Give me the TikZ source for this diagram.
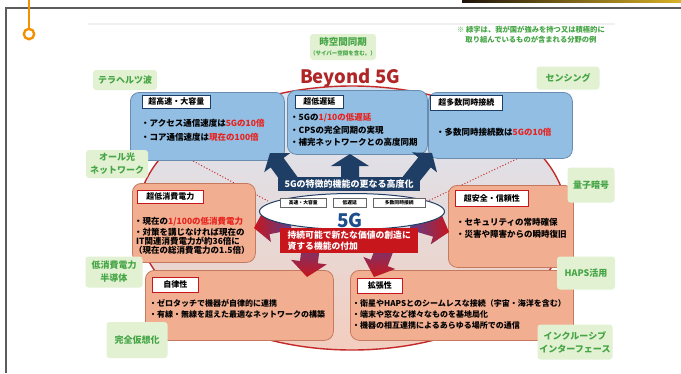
\documentclass[tikz,border=0pt]{standalone}
\usepackage{fontspec}
\setmainfont{Noto Sans CJK JP}
\usetikzlibrary{calc,shapes.geometric}
\definecolor{bfill}{HTML}{92BEE4}
\definecolor{bdraw}{HTML}{6A8CAE}
\definecolor{sfill}{HTML}{F2AE90}
\definecolor{sdraw}{HTML}{C57A60}
\definecolor{navy}{HTML}{1E3E66}
\definecolor{redtxt}{HTML}{E8231E}
\definecolor{rbox}{HTML}{C8161D}
\definecolor{gtxt}{HTML}{45A545}
\definecolor{gglow}{HTML}{E3F1D3}
\definecolor{ring}{HTML}{C42A2A}
\definecolor{five}{HTML}{1F4E8C}
\definecolor{orng}{HTML}{F39200}
\definecolor{framec}{HTML}{5C5C5C}
\definecolor{purp}{HTML}{5A3F8C}
\definecolor{bgtop}{HTML}{D9E7F5}
\definecolor{bgmid}{HTML}{F1E6EA}
\definecolor{bgbot}{HTML}{F3CDBE}
\tikzset{
 box/.style={rounded corners=9pt, line width=0.8pt, inner sep=0pt, anchor=north west},
 bluebox/.style={box, fill=bfill, draw=bdraw},
 salbox/.style={box, fill=sfill, draw=sdraw},
 lab/.style={fill=white, line width=0.9pt, inner sep=0pt, anchor=north west, font=\fontsize{8}{9}\selectfont\bfseries},
 blab/.style={lab, draw=navy},
 slab/.style={lab, draw=rbox},
 txt/.style={anchor=west, inner sep=0pt, font=\fontsize{8.5}{9}\selectfont\bfseries},
 txts/.style={anchor=west, inner sep=0pt, font=\fontsize{8}{9}\selectfont\bfseries},
 glow/.style={fill=gglow, rounded corners=3pt, text=gtxt, align=center, inner sep=0pt, font=\fontsize{9}{13}\selectfont\bfseries},
 minibox/.style={fill=white, draw=black!60, line width=0.5pt, inner sep=0pt, anchor=north west, font=\fontsize{4.8}{5}\selectfont\bfseries},
}
\newcommand\blockarr[6]{%
 \path let \p1=(#1), \p2=(#2), \n1={atan2(\y2-\y1,\x2-\x1)}, \n2={veclen(\x2-\x1,\y2-\y1)} in \pgfextra{\xdef\barang{\n1}\xdef\barlen{\n2}};
 \begin{scope}[shift={(#1)}, rotate=\barang]
  \path[#6] (0,-#3) -- ({\barlen-#5},-#3) -- ({\barlen-#5},-#4) -- (\barlen,0) -- ({\barlen-#5},#4) -- ({\barlen-#5},#3) -- (0,#3) -- cycle;
 \end{scope}}
\begin{document}
\begin{tikzpicture}[x=1pt,y=-1pt]
\useasboundingbox (0,0) rectangle (681,373);
\fill[white] (0,0) rectangle (681,373);
% frame and marker
\draw[framec, line width=1.2pt] (681,8) -- (6,8) -- (6,373);
\fill[left color=black!85!brown, right color=brown!60!yellow] (462,0) rectangle (681,2.2);
\draw[orng, line width=1.5pt] (29,0) -- (29,28.6);
\draw[orng, line width=2.4pt] (29,34) circle[radius=5.2pt];
\draw[black!6, line width=1.5pt] (88,24) -- (615,24);
% big region
\shade[top color=bgtop, middle color=bgmid, bottom color=bgbot] (352,218) ellipse [x radius=215pt, y radius=132pt];
\draw[ring, line width=1.4pt] (352,218) ellipse [x radius=215pt, y radius=132pt];
\draw[ring, dotted, line width=1pt] (180,154) -- (268,201);
\draw[ring, dotted, line width=1pt] (525,155) -- (428,201);
% blue boxes
\node[bluebox, minimum width=154pt, minimum height=68pt] (b1) at (130,92) {};
\node[blab, minimum width=68pt, minimum height=13pt] (l1) at (142,95) {超高速・大容量};
\node[txt] (t1a) at (141,123) {・アクセス通信速度は\textcolor{redtxt}{5Gの10倍}};
\node[txt] (t1b) at (141,137) {・コア通信速度は\textcolor{redtxt}{現在の100倍}};
\node[bluebox, minimum width=140pt, minimum height=64pt] (b2) at (287,90) {};
\node[blab, minimum width=48pt, minimum height=13pt] (l2) at (295,95) {超低遅延};
\node[txt] (t2a) at (290,118) {・5Gの\textcolor{redtxt}{1/10の低遅延}};
\node[txt] (t2b) at (290,130) {・CPSの完全同期の実現};
\node[txt] (t2c) at (290,142) {・補完ネットワークとの高度同期};
\node[bluebox, minimum width=144pt, minimum height=66pt] (b3) at (428,92) {};
\node[blab, minimum width=72pt, minimum height=15pt] (l3) at (430,95) {超多数同時接続};
\node[txt] (t3a) at (436,132) {・多数同時接続数は\textcolor{redtxt}{5Gの10倍}};
% salmon boxes
\node[salbox, minimum width=123pt, minimum height=79pt] (b4) at (132,183) {};
\node[slab, minimum width=66pt, minimum height=13pt] (l4) at (137,190) {超低消費電力};
\node[txt] (t4a) at (134,222) {・現在の\textcolor{redtxt}{1/100の低消費電力}};
\node[txt] (t4b) at (134,232) {・対策を講じなければ現在の};
\node[txt] (t4c) at (136,241) {IT関連消費電力が約36倍に};
\node[txt] (t4d) at (134,250) {（現在の総消費電力の1.5倍）};
\node[salbox, minimum width=125pt, minimum height=82pt] (b5) at (448,185) {};
\node[slab, minimum width=73pt, minimum height=16pt] (l5) at (455,190) {超安全・信頼性};
\node[txt] (t5a) at (456,222) {・セキュリティの常時確保};
\node[txt] (t5b) at (456,234) {・災害や障害からの瞬時復旧};
\node[salbox, minimum width=188pt, minimum height=70pt] (b6) at (145,270) {};
\node[slab, minimum width=46pt, minimum height=15pt] (l6) at (152,277) {自律性};
\node[txts] (t6a) at (149,303) {・ゼロタッチで機器が自律的に連携};
\node[txts] (t6b) at (149,314) {・有線・無線を超えた最適なネットワークの構築};
\node[salbox, minimum width=223pt, minimum height=70pt] (b7) at (350,270) {};
\node[slab, minimum width=45pt, minimum height=15pt] (l7) at (357,278) {拡張性};
\node[txts] (t7a) at (352,303) {・衛星やHAPSとのシームレスな接続（宇宙・海洋を含む）};
\node[txts] (t7b) at (352,314) {・端末や窓など様々なものを基地局化};
\node[txts] (t7c) at (352,325) {・機器の相互連携によるあらゆる場所での通信};
% arrows
\coordinate (a1s) at (292,183); \coordinate (a1e) at (270,153);
\coordinate (a2s) at (350,180); \coordinate (a2e) at (350,154);
\coordinate (a3s) at (408,183); \coordinate (a3e) at (432,153);
\coordinate (r1s) at (290,221); \coordinate (r1e) at (254,228);
\coordinate (r2s) at (312,238); \coordinate (r2e) at (307,277);
\coordinate (r3s) at (388,240); \coordinate (r3e) at (374,277);
\coordinate (r4s) at (412,221); \coordinate (r4e) at (449,232);
\blockarr{a1s}{a1e}{8}{16}{12}{fill=navy}
\blockarr{a2s}{a2e}{9}{19}{12}{fill=navy}
\blockarr{a3s}{a3e}{8}{16}{12}{fill=navy}
\blockarr{r1s}{r1e}{9}{17}{14}{left color=rbox, right color=purp}
\blockarr{r2s}{r2e}{9}{18}{15}{top color=purp, bottom color=rbox}
\blockarr{r3s}{r3e}{9}{17}{15}{top color=purp, bottom color=rbox}
\blockarr{r4s}{r4e}{9}{17}{14}{left color=purp, right color=rbox}
% center
\node[ellipse, draw=navy, fill=white, line width=1pt, minimum width=185pt, minimum height=36pt, inner sep=0pt] (e5g) at (352,211.5) {};
\node[minibox, minimum width=46pt, minimum height=9pt] (m1) at (280,198) {高速・大容量};
\node[minibox, minimum width=33pt, minimum height=9pt] (m2) at (333,198) {低遅延};
\node[minibox, minimum width=52pt, minimum height=9pt] (m3) at (373,198) {多数同時接続};
\node[fill=navy, text=white, inner sep=0pt, anchor=north west, minimum width=142pt, minimum height=14pt, font=\fontsize{9}{10}\selectfont\bfseries] (bar) at (278,177) {5Gの特徴的機能の更なる高度化};
\node[fill=rbox, text=white, inner sep=0pt, anchor=north west, minimum width=138pt, minimum height=25pt, align=left, font=\fontsize{8.8}{11}\selectfont\bfseries] (rb) at (280,228) {持続可能で新たな価値の創造に\\資する機能の付加};
\node[text=five, inner sep=0pt, font=\fontsize{19}{19}\selectfont\bfseries] (g5) at (350,220) {5G};
\node[text=ring!90!black, inner sep=0pt, font=\fontsize{18.5}{19}\selectfont\bfseries] (beyond) at (350,78) {Beyond 5G};
% green labels
\node[glow, minimum width=64pt, minimum height=20pt] (g1) at (125,80) {テラヘルツ波};
\node[glow, minimum width=63pt, minimum height=23pt] (g2) at (568,78) {センシング};
\node[glow, minimum width=62pt, minimum height=28pt] (g3) at (117,164) {オール光\\ネットワーク};
\node[glow, minimum width=47pt, minimum height=35pt] (g4) at (591,185) {量子暗号};
\node[glow, minimum width=57pt, minimum height=31pt] (g5l) at (114,272) {低消費電力\\半導体};
\node[glow, minimum width=58pt, minimum height=33pt] (g6) at (586,273) {HAPS活用};
\node[glow, minimum width=61pt, minimum height=36pt] (g7) at (137,340) {完全仮想化};
\node[glow, minimum width=75pt, minimum height=35pt] (g8) at (575,342) {インクルーシブ\\インターフェース};
\node[glow, minimum width=50pt, minimum height=26pt, font=\fontsize{9.5}{11}\selectfont\bfseries] (g9) at (343,47) {時空間同期\\[-1pt]{\fontsize{5.5}{6}\selectfont （サイバー空間を含む。）}};
\node[text=gtxt, align=center, inner sep=0pt, font=\fontsize{7.3}{10}\selectfont\bfseries] (note) at (531,35) {※ 緑字は、我が国が強みを持つ又は積極的に\\取り組んでいるものが含まれる分野の例};
\end{tikzpicture}
\end{document}
